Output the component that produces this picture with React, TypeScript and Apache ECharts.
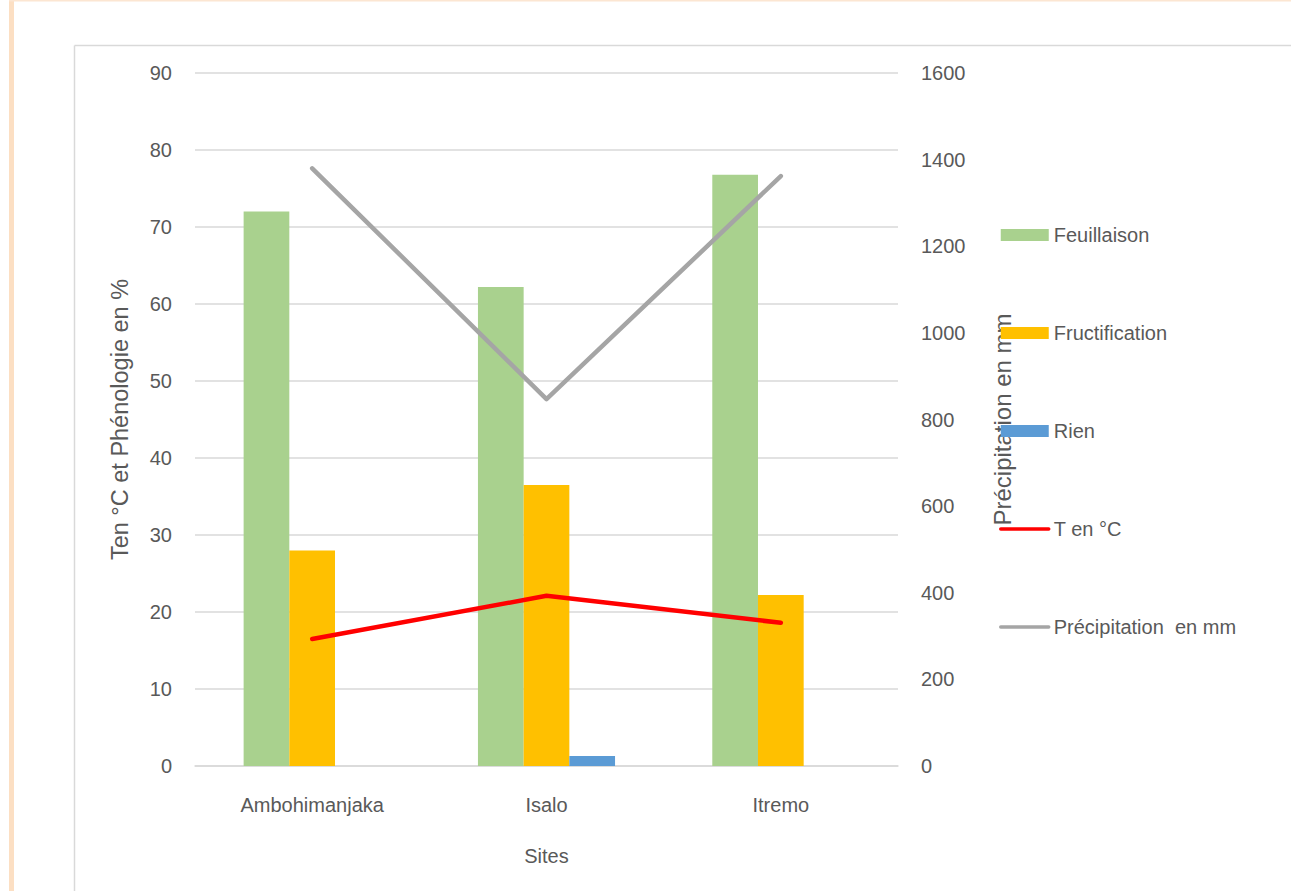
import React, { useEffect, useRef } from "react";
import * as echarts from "echarts";

// Sites and their phenology / climate measurements
const sites = ["Ambohimanjaka", "Isalo", "Itremo"];
const feuillaison = [72, 62.2, 76.8];
const fructification = [28, 36.5, 22.2];
const rien = [0, 1.3, 0];
const temperature = [16.5, 22.1, 18.6];
const precipitation = [1380, 847, 1362];

const FONT = "'Liberation Sans', Arial, sans-serif";
const TEXT = "#595959";
const GRID = "#D9D9D9";

export default function App() {
  const ref = useRef<HTMLDivElement>(null);

  useEffect(() => {
    if (!ref.current) return;
    const chart = echarts.init(ref.current, undefined, { renderer: "svg" });
    chart.setOption({
      animation: false,
      backgroundColor: "#ffffff",
      textStyle: { fontFamily: FONT, color: TEXT },
      graphic: [
        { type: "rect", shape: { x: 9, y: 0, width: 5, height: 891 }, style: { fill: "#FCDFC3" } },
        { type: "rect", shape: { x: 9, y: 0, width: 1282, height: 1.5 }, style: { fill: "#FCE6D2" } },
        { type: "line", shape: { x1: 74.5, y1: 45.5, x2: 1291, y2: 45.5 }, style: { stroke: GRID, lineWidth: 1.5 } },
        { type: "line", shape: { x1: 74.5, y1: 45.5, x2: 74.5, y2: 891 }, style: { stroke: GRID, lineWidth: 1.5 } },
      ],
      grid: { left: 195, right: 393, top: 73, bottom: 125 },
      legend: {
        orient: "vertical",
        left: 999,
        top: 225,
        padding: 0,
        itemWidth: 48,
        itemHeight: 12,
        itemGap: 78,
        textStyle: { fontFamily: FONT, fontSize: 20, color: TEXT },
        data: [
          { name: "Feuillaison", icon: "rect" },
          { name: "Fructification", icon: "rect" },
          { name: "Rien", icon: "rect" },
          { name: "T en °C", lineStyle: { width: 3.5, cap: "round" }, itemStyle: { opacity: 0 } },
          { name: "Précipitation  en mm", lineStyle: { width: 3.5, cap: "round" }, itemStyle: { opacity: 0 } },
        ],
      },
      xAxis: {
        type: "category",
        data: sites,
        name: "Sites",
        nameLocation: "middle",
        nameGap: 80,
        nameTextStyle: { fontFamily: FONT, fontSize: 20, color: TEXT },
        axisLine: { lineStyle: { color: GRID, width: 1.5 } },
        axisTick: { show: false },
        axisLabel: { fontFamily: FONT, fontSize: 20, color: TEXT, margin: 29 },
      },
      yAxis: [
        {
          type: "value",
          min: 0,
          max: 90,
          interval: 10,
          name: "Ten °C et Phénologie en %",
          nameLocation: "middle",
          nameGap: 63,
          nameRotate: 90,
          nameTextStyle: { fontFamily: FONT, fontSize: 23.5, color: TEXT },
          axisLine: { show: false },
          axisTick: { show: false },
          axisLabel: { fontFamily: FONT, fontSize: 20, color: TEXT, margin: 23 },
          splitLine: { lineStyle: { color: GRID, width: 1.5 } },
        },
        {
          type: "value",
          min: 0,
          max: 1600,
          interval: 200,
          position: "right",
          name: "Précipitation en mm",
          nameLocation: "middle",
          nameGap: 92,
          nameRotate: 90,
          nameTextStyle: { fontFamily: FONT, fontSize: 24, color: TEXT, verticalAlign: "top" },
          axisLine: { show: false },
          axisTick: { show: false },
          axisLabel: {
            fontFamily: FONT,
            fontSize: 20,
            color: TEXT,
            margin: 23,
            formatter: (v: number) => String(v),
          },
          splitLine: { show: false },
        },
      ],
      series: [
        {
          name: "Feuillaison",
          type: "bar",
          data: feuillaison,
          itemStyle: { color: "#A9D18E" },
          barGap: "0%",
          barCategoryGap: "41.5%",
        },
        {
          name: "Fructification",
          type: "bar",
          data: fructification,
          itemStyle: { color: "#FFC000" },
        },
        {
          name: "Rien",
          type: "bar",
          data: rien,
          itemStyle: { color: "#5B9BD5" },
        },
        {
          name: "T en °C",
          type: "line",
          data: temperature,
          symbol: "none",
          lineStyle: { color: "#FF0000", width: 4.5, cap: "round", join: "round" },
          itemStyle: { color: "#FF0000" },
        },
        {
          name: "Précipitation  en mm",
          type: "line",
          yAxisIndex: 1,
          data: precipitation,
          symbol: "none",
          lineStyle: { color: "#A5A5A5", width: 4.5, cap: "round", join: "round" },
          itemStyle: { color: "#A5A5A5" },
        },
      ],
    });
    return () => chart.dispose();
  }, []);

  return (
    <div
      ref={ref}
      style={{ position: "fixed", left: 0, top: 0, width: 1291, height: 891, background: "#fff" }}
    />
  );
}
